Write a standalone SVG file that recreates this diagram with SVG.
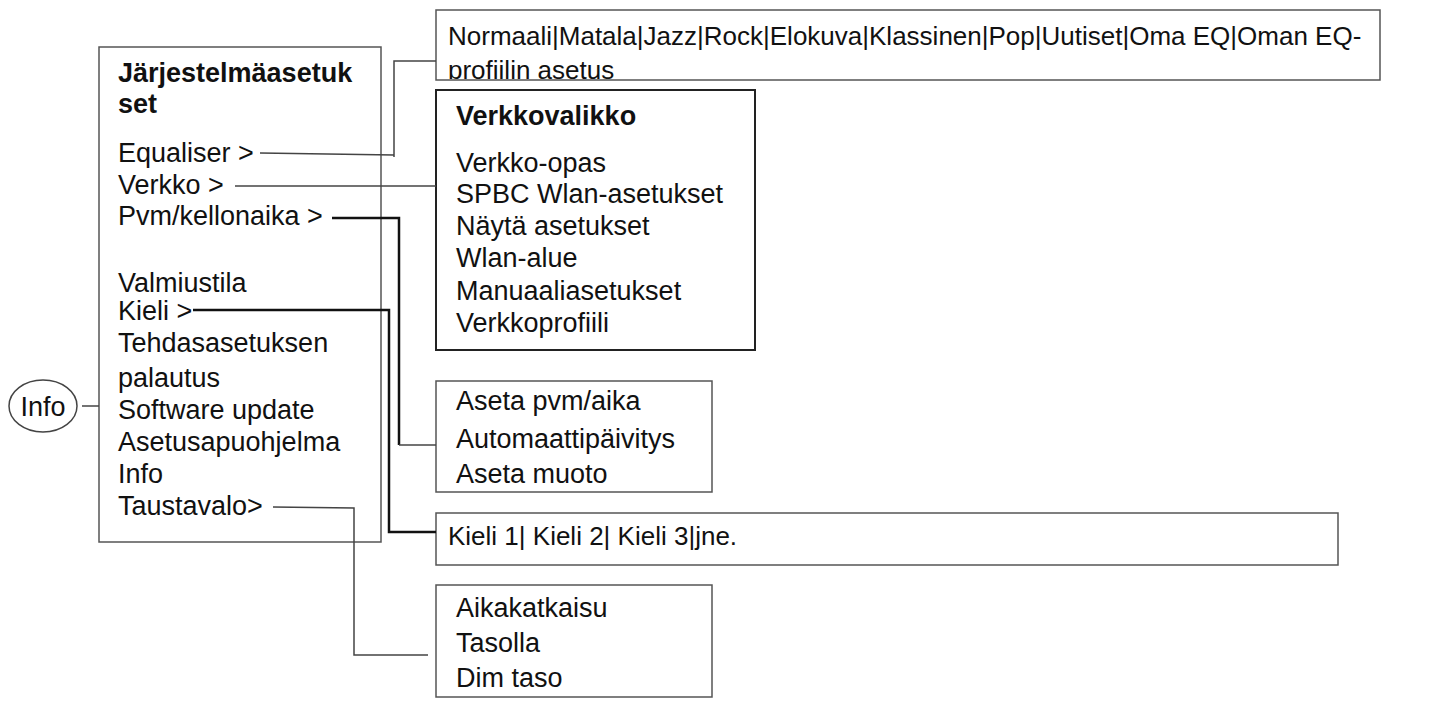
<svg xmlns="http://www.w3.org/2000/svg" width="1440" height="706" viewBox="0 0 1440 706">
<defs>
<style>
text{font-family:"Liberation Sans",Arial,sans-serif;font-size:27px;fill:#111}
text.s{font-size:26px}
.b{font-weight:bold}
.box{fill:#fff;stroke:#555;stroke-width:1.5}
.thin{fill:none;stroke:#444;stroke-width:1.5}
.thick{fill:none;stroke:#111;stroke-width:2.5}
</style>
<clipPath id="c1"><rect x="436" y="10" width="944" height="69"/></clipPath>
</defs>
<rect width="1440" height="706" fill="#fff"/>
<g id="info">
<ellipse cx="43" cy="406" rx="34" ry="26" fill="#fff" stroke="#444" stroke-width="1.5"/>
<text x="43" y="416" text-anchor="middle">Info</text>
</g>
<g id="main">
<rect class="box" x="99" y="47" width="282" height="495"/>
<text class="b" x="118" y="82">Järjestelmäasetuk</text>
<text class="b" x="118" y="113">set</text>
<text x="118" y="162">Equaliser &gt;</text>
<text x="118" y="194">Verkko &gt;</text>
<text x="118" y="225">Pvm/kellonaika &gt;</text>
<text x="118" y="292">Valmiustila</text>
<text x="118" y="320">Kieli &gt;</text>
<text x="118" y="352">Tehdasasetuksen</text>
<text x="118" y="387">palautus</text>
<text x="118" y="419">Software update</text>
<text x="118" y="451">Asetusapuohjelma</text>
<text x="118" y="483">Info</text>
<text x="118" y="515">Taustavalo&gt;</text>
</g>
<g id="eq">
<rect class="box" x="436" y="10" width="944" height="70"/>
<g clip-path="url(#c1)">
<text class="s" x="448" y="45">Normaali|Matala|Jazz|Rock|Elokuva|Klassinen|Pop|Uutiset|Oma EQ|Oman EQ-</text>
<text class="s" x="448" y="79">profiilin asetus</text>
</g>
</g>
<g id="verkko">
<rect x="436" y="90" width="319" height="260" fill="#fff" stroke="#222" stroke-width="2"/>
<text class="b" x="456" y="125">Verkkovalikko</text>
<text x="456" y="172">Verkko-opas</text>
<text x="456" y="203">SPBC Wlan-asetukset</text>
<text x="456" y="235">Näytä asetukset</text>
<text x="456" y="267">Wlan-alue</text>
<text x="456" y="300">Manuaaliasetukset</text>
<text x="456" y="332">Verkkoprofiili</text>
</g>
<g id="pvm">
<rect class="box" x="436" y="381" width="276" height="111"/>
<text x="456" y="410">Aseta pvm/aika</text>
<text x="456" y="448">Automaattipäivitys</text>
<text x="456" y="483">Aseta muoto</text>
</g>
<g id="kieli">
<rect class="box" x="436" y="513" width="902" height="52"/>
<text class="s" x="448" y="545">Kieli 1| Kieli 2| Kieli 3|jne.</text>
</g>
<g id="tausta">
<rect class="box" x="436" y="585" width="276" height="112"/>
<text x="456" y="617">Aikakatkaisu</text>
<text x="456" y="652">Tasolla</text>
<text x="456" y="687">Dim taso</text>
</g>
<g id="connectors">
<path class="thin" d="M82 406H99"/>
<path class="thin" d="M260 153L394 155M394 157V61H436"/>
<path class="thin" d="M235 186H436"/>
<path class="thick" d="M332 218H399V445"/>
<path class="thin" d="M399 445H436"/>
<path class="thick" d="M193 310H389V532H436"/>
<path class="thin" d="M273 507L354 508V655H428"/>
</g>
</svg>
